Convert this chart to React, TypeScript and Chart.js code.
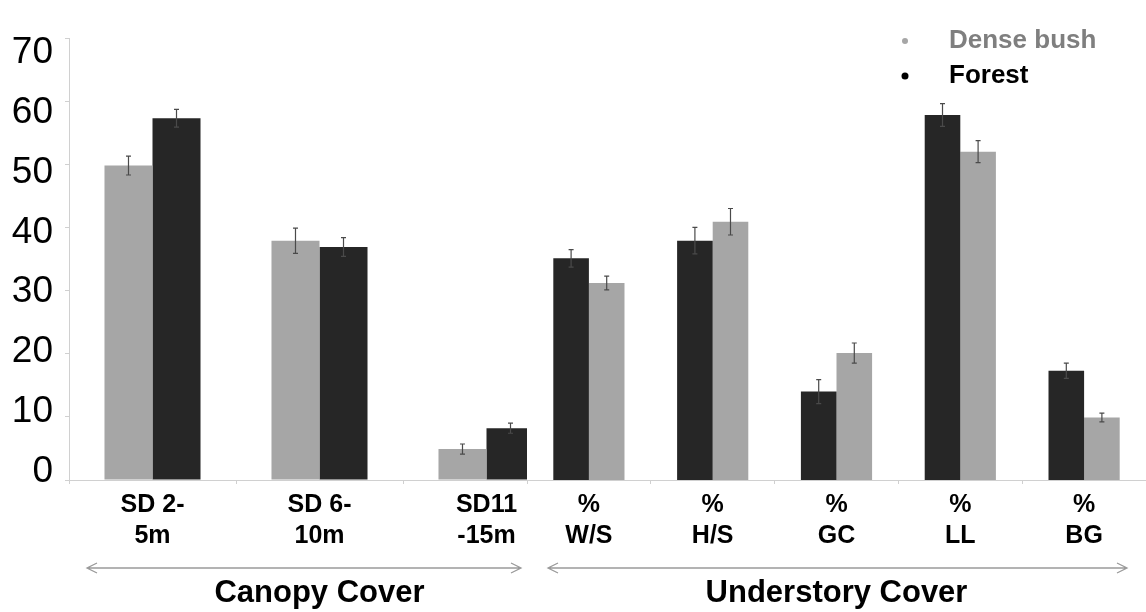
import React, { useEffect, useRef } from "react";
import { Chart, registerables } from "chart.js";

Chart.register(...registerables);

const FONT = "'Liberation Sans', Arial, sans-serif";

const seriesNames = ["Dense bush", "Forest"];
const seriesColors = ["#a6a6a6", "#262626"];
const legendTextColors = ["#7f7f7f", "#000000"];
const legendDotColors = ["#a6a6a6", "#000000"];

const groupTitles = ["Canopy Cover", "Understory Cover"];

const canopyLabels = [["SD 2-", "5m"], ["SD 6-", "10m"], ["SD11", "-15m"]];
const canopyDenseBush = [49.8, 37.9, 4.9];
const canopyDenseBushErr = [1.5, 2.0, 0.8];
const canopyForest = [57.3, 36.9, 8.2];
const canopyForestErr = [1.4, 1.5, 0.8];

const understoryLabels = [["%", "W/S"], ["%", "H/S"], ["%", "GC"], ["%", "LL"], ["%", "BG"]];
const understoryForest = [35.1, 37.9, 14.0, 57.8, 17.3];
const understoryForestErr = [1.4, 2.1, 1.9, 1.8, 1.2];
const understoryDenseBush = [31.2, 40.9, 20.1, 52.0, 9.9];
const understoryDenseBushErr = [1.1, 2.1, 1.6, 1.75, 0.7];

const yMin = 0;
const yMax = 70;
const yStep = 10;

const errorBarPlugin = {
  id: "errorBars",
  afterDatasetsDraw(chart: any) {
    const ctx = chart.ctx;
    ctx.save();
    ctx.strokeStyle = "#4a4a4a";
    ctx.lineWidth = 1.2;
    chart.data.datasets.forEach((ds: any, i: number) => {
      const meta = chart.getDatasetMeta(i);
      const ys = chart.scales[meta.yAxisID];
      meta.data.forEach((bar: any, j: number) => {
        const v = ds.data[j];
        const e = ds.errors[j];
        const x = bar.x;
        const y1 = ys.getPixelForValue(v + e);
        const y2 = ys.getPixelForValue(v - e);
        ctx.beginPath();
        ctx.moveTo(x, y1);
        ctx.lineTo(x, y2);
        ctx.moveTo(x - 2.5, y1);
        ctx.lineTo(x + 2.5, y1);
        ctx.moveTo(x - 2.5, y2);
        ctx.lineTo(x + 2.5, y2);
        ctx.stroke();
      });
    });
    ctx.restore();
  },
};

const arrowPlugin = {
  id: "groupArrow",
  afterDraw(chart: any, _args: any, opts: any) {
    const { left, right, bottom } = chart.chartArea;
    const ctx = chart.ctx;
    const x1 = left + opts.insetLeft;
    const x2 = right - opts.insetRight;
    const y = bottom + opts.offsetY;
    ctx.save();
    ctx.strokeStyle = "#9a9a9a";
    ctx.lineWidth = 1.3;
    ctx.beginPath();
    ctx.moveTo(x1, y);
    ctx.lineTo(x2, y);
    ctx.moveTo(x1 + 10, y - 5);
    ctx.lineTo(x1, y);
    ctx.lineTo(x1 + 10, y + 5);
    ctx.moveTo(x2 - 10, y - 5);
    ctx.lineTo(x2, y);
    ctx.lineTo(x2 - 10, y + 5);
    ctx.stroke();
    ctx.restore();
  },
};

const cornerLegendPlugin = {
  id: "cornerLegend",
  afterDraw(chart: any) {
    const ctx = chart.ctx;
    const { top, right } = chart.chartArea;
    ctx.save();
    ctx.font = `bold 26px ${FONT}`;
    ctx.textBaseline = "middle";
    ctx.textAlign = "left";
    seriesNames.forEach((name, i) => {
      const y = top + 3 + i * 35;
      ctx.fillStyle = legendDotColors[i];
      ctx.beginPath();
      ctx.arc(right - 241, y, i === 0 ? 3 : 3.5, 0, Math.PI * 2);
      ctx.fill();
      ctx.fillStyle = legendTextColors[i];
      ctx.fillText(name, right - 197, y);
    });
    ctx.restore();
  },
};

function xScale(title: string) {
  return {
    type: "category",
    grid: { display: true, drawOnChartArea: false, drawTicks: true, tickLength: 4, color: "#d0d0d0" },
    border: { display: true, color: "#d0d0d0", width: 1 },
    ticks: {
      color: "#000",
      font: { family: FONT, size: 25, weight: "bold", lineHeight: 1.25 },
      padding: 5,
      maxRotation: 0,
      minRotation: 0,
      autoSkip: false,
    },
    title: {
      display: true,
      text: title,
      color: "#000",
      font: { family: FONT, size: 31, weight: "bold", lineHeight: 1.2 },
      padding: { top: 0, bottom: 0 },
    },
    afterFit: (s: any) => {
      s.height = 132;
    },
  };
}

export default function App() {
  const leftRef = useRef<HTMLCanvasElement>(null);
  const rightRef = useRef<HTMLCanvasElement>(null);

  useEffect(() => {
    const left = new Chart(leftRef.current as HTMLCanvasElement, {
      type: "bar",
      data: {
        labels: canopyLabels as any,
        datasets: [
          { label: seriesNames[0], data: canopyDenseBush, errors: canopyDenseBushErr, backgroundColor: seriesColors[0], yAxisID: "y" } as any,
          { label: seriesNames[1], data: canopyForest, errors: canopyForestErr, backgroundColor: seriesColors[1], yAxisID: "y" } as any,
        ],
      },
      options: {
        responsive: false,
        animation: false,
        layout: { padding: { top: 38, left: 0, right: 0, bottom: 0 } },
        datasets: { bar: { categoryPercentage: 0.575, barPercentage: 1 } },
        plugins: {
          legend: { display: false },
          tooltip: { enabled: false },
          groupArrow: { insetLeft: 18, insetRight: 49, offsetY: 88 },
        } as any,
        scales: {
          x: xScale(groupTitles[0]) as any,
          y: {
            type: "linear",
            position: "left",
            weight: 0,
            min: yMin,
            max: yMax,
            ticks: { display: false, stepSize: yStep },
            grid: { display: true, drawOnChartArea: false, drawTicks: true, tickLength: 4, color: "#d0d0d0" },
            border: { display: true, color: "#d0d0d0" },
            afterFit: (s: any) => {
              s.width = 5;
            },
          } as any,
          yLabels: {
            type: "linear",
            axis: "y",
            position: "left",
            weight: 1,
            min: -1.42,
            max: 72.5,
            ticks: {
              stepSize: yStep,
              includeBounds: false,
              color: "#000",
              font: { family: FONT, size: 37 },
              padding: 11,
            },
            grid: { display: false, drawTicks: false },
            border: { display: false },
            afterFit: (s: any) => {
              s.width = 64;
            },
          } as any,
        },
      },
      plugins: [errorBarPlugin, arrowPlugin],
    });

    const right = new Chart(rightRef.current as HTMLCanvasElement, {
      type: "bar",
      data: {
        labels: understoryLabels as any,
        datasets: [
          { label: seriesNames[1], data: understoryForest, errors: understoryForestErr, backgroundColor: seriesColors[1], yAxisID: "y" } as any,
          { label: seriesNames[0], data: understoryDenseBush, errors: understoryDenseBushErr, backgroundColor: seriesColors[0], yAxisID: "y" } as any,
        ],
      },
      options: {
        responsive: false,
        animation: false,
        layout: { padding: { top: 38, left: 0, right: 0, bottom: 0 } },
        datasets: { bar: { categoryPercentage: 0.575, barPercentage: 1 } },
        plugins: {
          legend: { display: false },
          tooltip: { enabled: false },
          groupArrow: { insetLeft: 21, insetRight: 19, offsetY: 88 },
        } as any,
        scales: {
          x: xScale(groupTitles[1]) as any,
          y: {
            type: "linear",
            display: false,
            min: yMin,
            max: yMax,
            ticks: { stepSize: yStep },
          } as any,
        },
      },
      plugins: [errorBarPlugin, arrowPlugin, cornerLegendPlugin],
    });

    return () => {
      left.destroy();
      right.destroy();
    };
  }, []);

  return (
    <div style={{ position: "fixed", left: 0, top: 0, width: 1146, height: 612, background: "#fff", overflow: "hidden" }}>
      <canvas
        ref={leftRef}
        width={570}
        height={612}
        style={{ position: "absolute", left: 0, top: 0, width: 570, height: 612, display: "block" }}
      />
      <canvas
        ref={rightRef}
        width={619}
        height={612}
        style={{ position: "absolute", left: 527, top: 0, width: 619, height: 612, display: "block", background: "#fff" }}
      />
    </div>
  );
}
